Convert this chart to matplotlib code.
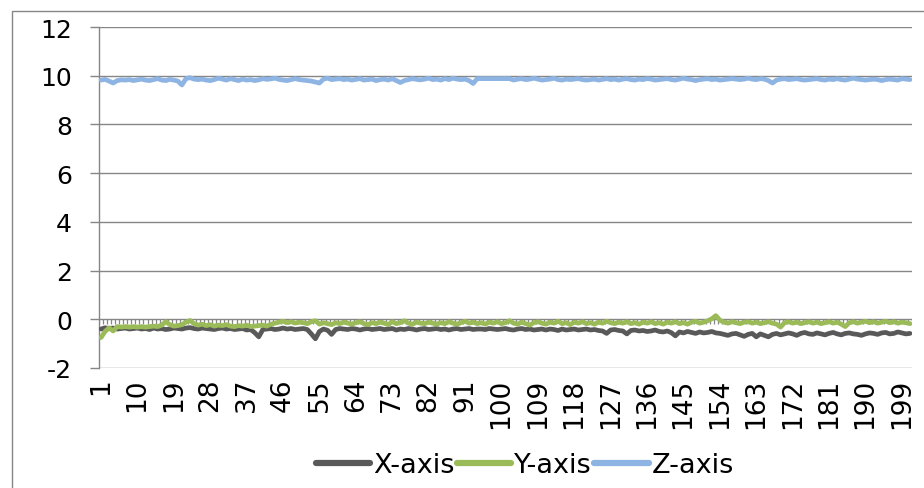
import numpy as np
import matplotlib
matplotlib.use('Agg')
import matplotlib.pyplot as plt
from matplotlib.patches import Rectangle

# accelerometer readings, samples 1..201
x_axis = [
    -0.40, -0.35, -0.38, -0.36, -0.40, -0.38, -0.36, -0.40, -0.38, -0.36,
    -0.40, -0.38, -0.42, -0.36, -0.40, -0.38, -0.42, -0.40, -0.36, -0.38,
    -0.40, -0.36, -0.34, -0.38, -0.40, -0.36, -0.38, -0.40, -0.42, -0.38,
    -0.36, -0.40, -0.38, -0.42, -0.40, -0.38, -0.44, -0.42, -0.55, -0.72,
    -0.42, -0.40, -0.38, -0.42, -0.40, -0.36, -0.40, -0.38, -0.42, -0.40,
    -0.38, -0.42, -0.60, -0.80, -0.50, -0.40, -0.45, -0.62, -0.42, -0.38,
    -0.40, -0.42, -0.38, -0.40, -0.44, -0.40, -0.38, -0.42, -0.40, -0.38,
    -0.42, -0.40, -0.38, -0.44, -0.40, -0.42, -0.38, -0.40, -0.44, -0.40,
    -0.38, -0.42, -0.40, -0.38, -0.42, -0.40, -0.44, -0.40, -0.38, -0.42,
    -0.40, -0.38, -0.42, -0.40, -0.40, -0.42, -0.38, -0.40, -0.42, -0.40,
    -0.38, -0.42, -0.44, -0.40, -0.38, -0.42, -0.40, -0.44, -0.42, -0.40,
    -0.44, -0.40, -0.42, -0.46, -0.40, -0.44, -0.42, -0.40, -0.44, -0.42,
    -0.40, -0.44, -0.42, -0.46, -0.48, -0.58, -0.44, -0.42, -0.46, -0.48,
    -0.60, -0.46, -0.44, -0.48, -0.46, -0.50, -0.48, -0.44, -0.50, -0.52,
    -0.48, -0.55, -0.68, -0.52, -0.56, -0.50, -0.54, -0.58, -0.52, -0.56,
    -0.54, -0.50, -0.56, -0.58, -0.62, -0.66, -0.60, -0.58, -0.64, -0.70,
    -0.62, -0.58, -0.72, -0.60, -0.66, -0.72, -0.62, -0.58, -0.64, -0.60,
    -0.56, -0.60, -0.66, -0.58, -0.54, -0.60, -0.62, -0.56, -0.60, -0.64,
    -0.58, -0.54, -0.60, -0.64, -0.58, -0.56, -0.60, -0.62, -0.66, -0.60,
    -0.56, -0.58, -0.62, -0.56, -0.54, -0.60, -0.58, -0.52, -0.56, -0.60, -0.58,
]

y_axis = [
    -0.75, -0.50, -0.35, -0.48, -0.30, -0.32, -0.30, -0.32, -0.30, -0.32,
    -0.30, -0.32, -0.30, -0.28, -0.30, -0.24, -0.10, -0.22, -0.28, -0.26,
    -0.22, -0.12, -0.05, -0.18, -0.24, -0.20, -0.26, -0.22, -0.28, -0.24,
    -0.26, -0.22, -0.28, -0.30, -0.26, -0.28, -0.24, -0.30, -0.28, -0.26,
    -0.24, -0.28, -0.20, -0.16, -0.12, -0.08, -0.14, -0.10, -0.16, -0.12,
    -0.14, -0.18, -0.10, -0.06, -0.20, -0.14, -0.18, -0.22, -0.14, -0.18,
    -0.12, -0.16, -0.20, -0.14, -0.10, -0.18, -0.22, -0.14, -0.18, -0.12,
    -0.16, -0.22, -0.10, -0.18, -0.14, -0.06, -0.16, -0.20, -0.12, -0.16,
    -0.18, -0.12, -0.16, -0.20, -0.14, -0.18, -0.10, -0.16, -0.20, -0.14,
    -0.08, -0.16, -0.12, -0.18, -0.14, -0.20, -0.12, -0.16, -0.10, -0.18,
    -0.14, -0.06, -0.16, -0.20, -0.12, -0.18, -0.24, -0.14, -0.10, -0.16,
    -0.20, -0.12, -0.16, -0.08, -0.18, -0.14, -0.22, -0.12, -0.16, -0.10,
    -0.18, -0.14, -0.20, -0.12, -0.16, -0.08, -0.14, -0.18, -0.12, -0.16,
    -0.10, -0.18, -0.14, -0.20, -0.12, -0.16, -0.10, -0.18, -0.14, -0.20,
    -0.12, -0.16, -0.10, -0.18, -0.14, -0.20, -0.12, -0.08, -0.16, -0.12,
    -0.06, 0.02, 0.15, -0.04, -0.12, -0.16, -0.10, -0.14, -0.18, -0.12,
    -0.10, -0.16, -0.12, -0.18, -0.14, -0.10, -0.16, -0.20, -0.32, -0.14,
    -0.10, -0.16, -0.12, -0.18, -0.14, -0.10, -0.16, -0.12, -0.18, -0.14,
    -0.10, -0.16, -0.12, -0.20, -0.30, -0.14, -0.10, -0.16, -0.12, -0.08,
    -0.14, -0.10, -0.16, -0.12, -0.08, -0.14, -0.10, -0.16, -0.12, -0.14, -0.18,
]

z_axis = [
    9.82, 9.85, 9.78, 9.70, 9.80, 9.83, 9.82, 9.84, 9.80, 9.83,
    9.86, 9.82, 9.80, 9.84, 9.88, 9.82, 9.80, 9.85, 9.82, 9.78,
    9.62, 9.88, 9.92, 9.86, 9.84, 9.86, 9.82, 9.80, 9.84, 9.90,
    9.86, 9.82, 9.88, 9.84, 9.80, 9.86, 9.82, 9.84, 9.80, 9.83,
    9.88, 9.85, 9.87, 9.90, 9.85, 9.82, 9.80, 9.84, 9.88, 9.84,
    9.82, 9.80, 9.78, 9.74, 9.70, 9.86, 9.90, 9.84, 9.86, 9.88,
    9.84, 9.86, 9.82, 9.85, 9.88, 9.82, 9.84, 9.86, 9.80, 9.84,
    9.86, 9.82, 9.88, 9.80, 9.72, 9.80, 9.84, 9.88, 9.85, 9.83,
    9.86, 9.90, 9.84, 9.86, 9.82, 9.88, 9.84, 9.90, 9.86, 9.84,
    9.86, 9.80, 9.68, 9.88, 9.88, 9.88, 9.88, 9.88, 9.88, 9.88,
    9.88, 9.88, 9.82, 9.86, 9.88, 9.84, 9.86, 9.90, 9.86, 9.82,
    9.84, 9.86, 9.90, 9.84, 9.82, 9.86, 9.84, 9.86, 9.88, 9.84,
    9.82, 9.84, 9.86, 9.82, 9.85, 9.88, 9.84, 9.86, 9.82, 9.86,
    9.88, 9.84, 9.82, 9.86, 9.84, 9.88, 9.86, 9.82, 9.84, 9.86,
    9.88, 9.84, 9.82, 9.86, 9.90, 9.86, 9.84, 9.80, 9.84, 9.86,
    9.88, 9.84, 9.86, 9.82, 9.84, 9.86, 9.88, 9.86, 9.84, 9.86,
    9.90, 9.86, 9.84, 9.88, 9.86, 9.80, 9.70, 9.82, 9.86, 9.88,
    9.84, 9.86, 9.88, 9.84, 9.82, 9.84, 9.86, 9.88, 9.84, 9.82,
    9.86, 9.84, 9.88, 9.84, 9.82, 9.86, 9.90, 9.86, 9.84, 9.82,
    9.84, 9.86, 9.84, 9.80, 9.84, 9.86, 9.84, 9.82, 9.88, 9.86, 9.84,
]

series_names = ['X-axis', 'Y-axis', 'Z-axis']
series_colors = ['#595959', '#9bbb59', '#8db4e2']
label_step = 9
y_ticks = [-2, 0, 2, 4, 6, 8, 10, 12]

grid_col = '#868686'
samples = np.arange(1, len(x_axis) + 1)

fig = plt.figure(figsize=(9.24, 4.89), dpi=100)
ax = fig.add_axes([99 / 924, 1 - 369 / 489, 813 / 924, 341 / 489])

for vals, name, col in zip([x_axis, y_axis, z_axis], series_names, series_colors):
    ax.plot(samples, vals, color=col, lw=3.4, label=name, solid_joinstyle='round',
            solid_capstyle='round', zorder=3)

# category tick marks hanging from the zero line
edges = np.arange(0.5, len(x_axis) + 1, 1)
ax.vlines(edges, -0.2, 0, color=grid_col, lw=0.9, zorder=2)

ax.set_xlim(0.5, len(x_axis) + 0.5)
ax.set_ylim(y_ticks[0], y_ticks[-1])
ax.yaxis.grid(True, color=grid_col, lw=1.0)
ax.set_axisbelow(True)

for s in ['top', 'right', 'bottom']:
    ax.spines[s].set_visible(False)
ax.spines['left'].set_color(grid_col)
ax.spines['left'].set_linewidth(1.0)
ax.tick_params(axis='y', length=6.5, width=1.0, color=grid_col, pad=13, labelcolor='black',
               labelsize=18)
ax.tick_params(axis='x', length=0, pad=7, labelcolor='black', labelsize=19, labelrotation=90)

ax.set_yticks(y_ticks)
ax.set_yticklabels([str(t) for t in y_ticks])
lab_pos = samples[::label_step]
ax.set_xticks(lab_pos)
ax.set_xticklabels([str(p) for p in lab_pos], rotation=90, va='top', ha='center')

leg = fig.legend(loc='center', bbox_to_anchor=(0.568, 0.047), ncol=3, frameon=False,
                 fontsize=19.5, handlelength=2.0, handletextpad=0.1, columnspacing=0.1)
for h in leg.get_lines():
    h.set_linewidth(4.5)

# outer chart-area frame (cut off at the right and bottom)
fig.patches.append(Rectangle((12 / 924, -0.1), 1.2, 1.1 - 12 / 489, transform=fig.transFigure,
                             fill=False, edgecolor=grid_col, lw=1.0))

fig.savefig('out.png', dpi=100)
